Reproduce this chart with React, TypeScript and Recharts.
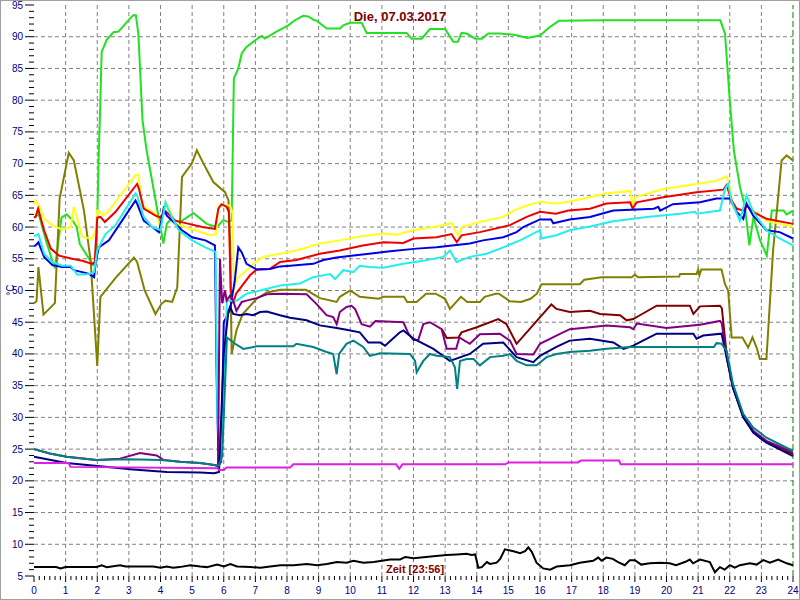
import { LineChart, Line, XAxis, YAxis, ReferenceLine } from "recharts";

type Pt = [number, number];

// Stundenwerte (Zeit in h, Temperatur in °C)
const gruen: Pt[] = [
  [0, 61.5], [0.15, 62], [0.4, 57.5], [0.66, 53.5], [0.87, 61.5], [1.03, 62], [1.2, 61.2], [1.35, 60],
  [1.45, 57.3], [1.87, 54], [1.97, 54.5], [2.05, 72], [2.1, 80], [2.14, 87.6], [2.3, 89.5], [2.51, 90.7],
  [2.67, 90.8], [3.04, 92.9], [3.14, 93.4], [3.22, 93.4], [3.3, 90.5], [3.35, 85.3], [3.43, 76.9], [3.56, 72.1],
  [4.09, 57.4], [4.2, 60.5], [4.3, 61.1], [4.62, 60.8], [5.04, 62.2], [5.46, 60.5], [5.78, 60], [5.99, 61.1],
  [6.15, 60.8], [6.25, 61.1], [6.32, 83.4], [6.46, 85], [6.57, 87.4], [6.72, 88.4], [7.04, 89.6], [7.2, 90.1],
  [7.3, 89.7], [7.67, 90.8], [8.04, 91.8], [8.25, 92.6], [8.51, 93.3], [8.67, 93.2], [8.83, 92.7], [8.94, 92.5],
  [9.26, 91.3], [9.68, 91.3], [9.78, 91.8], [9.99, 92.2], [10.36, 92.2], [10.52, 90.6], [11.78, 90.6],
  [11.94, 89.7], [12.26, 89.7], [12.52, 91.2], [13.0, 91.2], [13.26, 89.2], [13.4, 89.2], [13.52, 90.6],
  [13.68, 90.5], [13.95, 89.7], [14.16, 89.7], [14.37, 90.5], [14.73, 90.5], [15.2, 90.3], [15.6, 89.8],
  [16.0, 90.2], [16.3, 91.5], [16.6, 92.5], [18, 92.6], [21.7, 92.6], [21.85, 90.5], [22.0, 80], [22.13, 72.1],
  [22.32, 66.4], [22.48, 63.2], [22.62, 57.1], [22.75, 61.6], [22.95, 58], [23.17, 55.5], [23.33, 62.6],
  [23.7, 62.6], [23.8, 62], [24, 62.6],
];

const gelb: Pt[] = [
  [0, 63.5], [0.05, 64.2], [0.16, 63.4], [0.32, 61.3], [0.58, 60.3], [0.89, 59.6], [1.16, 60], [1.26, 63.2],
  [1.53, 58.4], [1.84, 58.2], [1.95, 59.5], [2.0, 62.6], [2.1, 62.4], [2.2, 61.8], [2.37, 62.6], [3.21, 68.2],
  [3.3, 68.2], [3.42, 63.4], [3.84, 62.1], [4.0, 60], [4.14, 63.9], [4.26, 63.2], [4.47, 60.5], [4.79, 60],
  [5.1, 59.5], [5.58, 58.7], [5.76, 58.9], [5.83, 63.4], [6.2, 63.4], [6.28, 62.1], [6.33, 50], [6.4, 51.8],
  [6.73, 53.2], [6.93, 54.2], [7.25, 55.3], [7.78, 55.8], [8.3, 56.3], [9.04, 57.4], [9.67, 57.9], [10.3, 58.5],
  [11.05, 59], [11.47, 58.8], [12.0, 59.5], [12.73, 60.1], [13.21, 60.6], [13.31, 59.5], [13.42, 58.7],
  [13.52, 60], [14.1, 60.8], [14.84, 61.6], [15.16, 62.6], [15.58, 63.4], [16.0, 64], [16.5, 63.7], [16.9, 64],
  [17.58, 64.7], [18.06, 65.3], [18.85, 65.7], [18.93, 63.4], [19.0, 64.7], [19.9, 66], [20.95, 66.8],
  [21.6, 67.3], [21.9, 68], [22.0, 66.3], [22.1, 63.2], [22.43, 62.6], [22.53, 64.7], [22.74, 62.6],
  [23.16, 61], [24, 60.1],
];

const rot: Pt[] = [
  [0, 61.5], [0.05, 61.6], [0.13, 62.9], [0.32, 59.5], [0.53, 56.6], [0.79, 55.5], [1.21, 55], [1.53, 54.7],
  [1.84, 54.2], [1.92, 54.5], [2.0, 61.5], [2.1, 61.6], [2.24, 60.8], [2.58, 62.4], [3.26, 66.8], [3.32, 66],
  [3.47, 62.9], [3.84, 61.8], [4.0, 61.5], [4.16, 62.5], [4.47, 61], [4.9, 60.5], [5.32, 60], [5.72, 59.7],
  [5.83, 62.9], [5.93, 63.6], [6.09, 63.2], [6.16, 62.4], [6.22, 50], [6.3, 48], [6.39, 49.5], [6.51, 50.3],
  [6.83, 52.4], [7.04, 53.3], [7.46, 53.4], [7.78, 54.5], [8.3, 54.8], [9.04, 55.8], [9.67, 56.3], [10.4, 57.1],
  [11.05, 57.6], [11.68, 57.5], [12.0, 58.2], [12.73, 58.4], [13.2, 58.9], [13.37, 57.6], [13.52, 58.7],
  [14.1, 59.2], [15.05, 60.3], [15.58, 61.6], [16.0, 62.4], [16.5, 62.1], [16.9, 62.6], [17.58, 62.9],
  [18.1, 63.7], [18.85, 63.9], [18.93, 62.9], [19.06, 63.9], [19.9, 64.7], [20.95, 65.5], [21.8, 65.9],
  [21.9, 66.6], [22.06, 64.2], [22.22, 62.9], [22.43, 62.6], [22.53, 63.4], [22.74, 62.4], [23.16, 61.3],
  [24, 60.5],
];

const blau: Pt[] = [
  [0, 57], [0.05, 57.1], [0.14, 57.6], [0.32, 55.3], [0.58, 54], [0.89, 53.7], [1.16, 53.7], [1.26, 53.2],
  [1.53, 52.9], [1.74, 52.6], [1.9, 52.1], [1.95, 54.5], [2.05, 56.8], [2.37, 57.9], [3.21, 64.2], [3.26, 63.7],
  [3.47, 61], [3.74, 60], [3.95, 59.2], [4.1, 62.9], [4.2, 61.8], [4.37, 61], [4.68, 59.5], [5.0, 58.4],
  [5.42, 57.9], [5.72, 57.1], [5.78, 35], [5.84, 22.5], [5.92, 23], [6.0, 45], [6.2, 47], [6.35, 51.6],
  [6.46, 56.8], [6.57, 56], [6.72, 54.2], [7.04, 53.3], [7.46, 53.4], [7.78, 53.8], [8.1, 53.9], [8.83, 54.2],
  [9.15, 54.8], [9.57, 55.2], [10.1, 55.5], [10.6, 55.8], [11.26, 56.2], [12.1, 56.6], [12.73, 56.8],
  [13.78, 57.4], [14.2, 57.9], [14.84, 58.4], [15.26, 59.2], [15.47, 60], [16.0, 61.2], [16.35, 61.2],
  [16.42, 60.6], [16.94, 61.2], [17.58, 61.6], [18.32, 62.6], [19.6, 62.9], [19.74, 63.2], [19.8, 62.6],
  [20.2, 63.6], [21.06, 63.9], [21.58, 64.5], [22.0, 64.5], [22.22, 62.4], [22.43, 61.3], [22.53, 63.7],
  [22.74, 61.8], [23.16, 59.5], [23.58, 59.2], [24, 58.2],
];

const cyan: Pt[] = [
  [0, 58.5], [0.05, 58.7], [0.14, 58.9], [0.32, 55.8], [0.58, 54.5], [0.89, 53.9], [1.16, 53.9], [1.37, 52.5],
  [1.74, 52.6], [1.9, 52.9], [2.0, 56.3], [2.26, 58.9], [2.58, 60.3], [3.21, 65.3], [3.26, 65], [3.47, 61.6],
  [3.74, 60], [4.0, 59.5], [4.16, 63.9], [4.26, 62.6], [4.58, 59.5], [5.0, 57.9], [5.42, 56.8], [5.74, 56.1],
  [5.8, 30], [5.9, 23], [5.98, 30], [6.1, 48.4], [6.41, 48.4], [6.72, 49.5], [7.15, 50], [7.78, 50.8],
  [8.41, 51.1], [8.83, 52.1], [9.36, 52.6], [9.52, 51.8], [9.78, 53.2], [10.1, 52.9], [10.3, 53.9],
  [10.6, 53.7], [11.05, 53.6], [11.68, 54.2], [12.31, 54.7], [12.94, 55.3], [13.15, 56.3], [13.36, 54.5],
  [13.78, 55.3], [14.31, 55.8], [14.84, 56.8], [15.37, 57.9], [16.0, 59.5], [16.05, 58.2], [16.52, 58.7],
  [16.94, 59.5], [17.58, 60.1], [18.32, 60.9], [19.38, 61.6], [20.43, 62.1], [20.9, 62.4], [20.95, 62.1],
  [21.69, 62.6], [21.85, 66], [21.95, 66.8], [22.06, 64], [22.32, 61], [22.53, 65], [22.74, 62.4],
  [23.16, 59.5], [23.58, 58.2], [24, 57.1],
];

const oliv: Pt[] = [
  [0, 48], [0.08, 48.3], [0.14, 53.7], [0.3, 46.2], [0.66, 48], [0.81, 64.5], [1.1, 71.7], [1.26, 70.5],
  [1.58, 62.6], [1.79, 54.7], [1.95, 42], [2.0, 38.1], [2.1, 49], [2.58, 52], [3.16, 55.2], [3.26, 54.5],
  [3.5, 50], [3.84, 46.3], [4.03, 47.9], [4.16, 48.4], [4.37, 48.2], [4.53, 50.5], [4.68, 67.9], [4.99, 70],
  [5.15, 72.1], [5.36, 70], [5.67, 67.1], [6.04, 65.5], [6.15, 64.2], [6.2, 57.9], [6.25, 40], [6.4, 43.7],
  [6.6, 46.3], [7.04, 48.7], [7.36, 49.7], [7.8, 50.1], [8.6, 50.1], [9.04, 48.8], [9.57, 48.2], [9.67, 49],
  [10.0, 50], [10.3, 49], [10.9, 48.7], [11.05, 49], [11.7, 49], [11.8, 48.2], [12.1, 48.2], [12.4, 49.5],
  [12.7, 49.5], [13.0, 48.7], [13.15, 47.1], [13.5, 49], [13.7, 48.2], [14.1, 48.2], [14.25, 49], [14.6, 49.5],
  [14.7, 49.5], [15.05, 48.3], [15.4, 48.2], [15.7, 48.7], [15.9, 49.5], [16.05, 51], [17.26, 51],
  [17.4, 51.7], [17.95, 52.1], [18.9, 52.1], [19.0, 52.5], [19.1, 52.1], [20.4, 52.2], [20.43, 52.6],
  [20.95, 52.6], [21.0, 53.3], [21.04, 52.4], [21.1, 53.3], [21.74, 53.3], [21.85, 51], [21.95, 50],
  [22.06, 42.6], [22.4, 42.6], [22.58, 41], [22.72, 42.6], [22.85, 41], [22.95, 39.2], [23.16, 39.2],
  [23.37, 56.3], [23.64, 70.5], [23.8, 71.3], [24, 70.5],
];

const braun: Pt[] = [
  [12.9, 43.9], [13.05, 42.5], [13.42, 42.6], [13.52, 43.4], [14.0, 44.2], [14.68, 45.5], [14.94, 44.7],
  [15.26, 41.6], [16.36, 47.8], [16.52, 47.1], [16.94, 46.6], [17.58, 46.8], [17.9, 46.3], [18.53, 46.1],
  [18.74, 45.3], [18.95, 45.5], [19.16, 46.1], [19.69, 47.6], [20.74, 47.6], [20.85, 46.3], [21.06, 47.5],
  [21.69, 47.6], [21.75, 47.2], [21.9, 40], [22.1, 34.8], [22.43, 30], [22.74, 27.8], [23.16, 26.2], [24, 24.2],
];

const lila: Pt[] = [
  [0, 25], [0.5, 24.3], [1.03, 23.8], [1.98, 23.3], [2.72, 23.5], [3.35, 24.4], [3.88, 24.0], [4.09, 23.3],
  [4.62, 23.0], [5.25, 22.8], [5.7, 22.5], [5.82, 22.3], [5.88, 55], [5.95, 48], [6.04, 50], [6.09, 48.4],
  [6.2, 49.2], [6.3, 48.4], [6.4, 46.8], [6.57, 48.2], [6.72, 48.4], [7.04, 48.8], [7.36, 49.4], [7.78, 49.5],
  [8.62, 49.4], [8.93, 47.9], [9.25, 46.1], [9.46, 45.8], [9.57, 44.7], [9.67, 46.6], [9.88, 47.4],
  [10.04, 47.6], [10.15, 47.1], [10.36, 44.7], [10.62, 44.3], [10.8, 45.2], [11.68, 45], [11.84, 43.2],
  [12.0, 42.2], [12.15, 42.2], [12.31, 44.7], [12.52, 45], [12.89, 43.9], [13.05, 40.8], [13.35, 40.8],
  [13.45, 42.6], [13.78, 41.6], [14.1, 43.1], [14.73, 43.2], [15.05, 42.1], [15.26, 40], [15.79, 39.9],
  [16.0, 41.6], [16.52, 42.9], [16.94, 43.9], [17.58, 44.2], [18.1, 44.5], [18.85, 44.2], [18.95, 43.9],
  [19.06, 44.8], [20.0, 44.1], [21.06, 44.6], [21.69, 45.2], [21.75, 44.8], [21.9, 39.5], [22.1, 34.7],
  [22.43, 30], [22.74, 27.9], [23.16, 26.3], [24, 24.5],
];

const marine: Pt[] = [
  [0, 23.8], [1.03, 22.8], [2.09, 22.3], [3.14, 21.8], [4.2, 21.4], [5.25, 21.3], [5.7, 21.2], [5.85, 21.4],
  [5.92, 30], [6.0, 40], [6.15, 46.8], [6.2, 47.4], [6.3, 46.3], [6.51, 46.1], [6.72, 46.3], [6.93, 46.1],
  [7.15, 46.6], [7.36, 46.7], [7.78, 46.1], [8.1, 45.7], [8.62, 45.3], [9.04, 44.5], [9.57, 44.1], [9.88, 43.8],
  [10.3, 43.4], [10.57, 41.8], [10.94, 41.8], [11.1, 41.3], [11.57, 43.4], [11.68, 43.7], [12.0, 42.4],
  [12.63, 40.8], [13.15, 38.9], [13.78, 40], [14.2, 41.6], [14.84, 41.8], [15.26, 39.5], [15.79, 38.7],
  [16.0, 39.7], [16.52, 41.1], [16.94, 42.1], [17.58, 42.4], [18.32, 41.8], [18.64, 40.8], [18.95, 41.3],
  [19.38, 42.4], [19.69, 43.2], [20.85, 43.2], [20.95, 42.4], [21.16, 42.9], [21.74, 43.2], [21.9, 39.5],
  [22.1, 34.7], [22.43, 30], [22.74, 27.6], [23.16, 26], [24, 23.9],
];

const petrol: Pt[] = [
  [0, 25], [0.5, 24.3], [1.03, 23.8], [1.98, 23.3], [3.0, 23.4], [4.0, 23.3], [4.62, 23.0], [5.25, 22.8],
  [5.7, 22.5], [5.85, 22.4], [5.95, 24], [6.1, 42.6], [6.36, 41.6], [6.62, 40.8], [7.04, 41.2], [8.2, 41.2],
  [8.3, 41.6], [8.83, 41.1], [9.25, 40.3], [9.46, 40], [9.57, 36.8], [9.65, 40], [9.88, 41.6], [10.1, 42.1],
  [10.41, 41.1], [10.62, 39.7], [10.94, 40.1], [11.89, 40], [12.05, 38.9], [12.1, 37.1], [12.31, 38.9],
  [12.52, 40], [12.73, 39.7], [13.15, 39.5], [13.31, 37.9], [13.38, 34.5], [13.47, 38.9], [13.68, 39.2],
  [13.9, 39.2], [14.1, 38.2], [14.42, 39.5], [14.84, 39.7], [15.05, 40], [15.26, 38.9], [15.58, 38.2],
  [15.89, 38.2], [16.21, 39.5], [16.52, 40], [16.94, 40.3], [17.58, 40.5], [18.1, 40.8], [18.85, 41.1],
  [21.06, 41.1], [21.5, 41.1], [21.58, 41.7], [21.74, 41.6], [21.9, 40.5], [22.1, 35.3], [22.43, 30.5],
  [22.74, 28.4], [23.16, 26.8], [24, 24.7],
];

const magenta: Pt[] = [
  [0, 22.8], [1.1, 22.8], [1.15, 22.2], [5.8, 22.0], [5.85, 21.7], [6.0, 21.7], [6.09, 22.1], [8.1, 22.1],
  [8.2, 22.6], [11.45, 22.6], [11.55, 21.9], [11.65, 22.6], [14.9, 22.6], [15.0, 22.9], [17.2, 22.9],
  [17.3, 23.2], [18.5, 23.2], [18.55, 22.6], [24, 22.6],
];

const aussen: Pt[] = [
  [0, 6.4], [0.7, 6.4], [0.84, 6.2], [1.0, 6.4], [1.98, 6.4], [2.14, 6.7], [2.3, 6.4], [2.72, 6.7], [2.9, 6.5],
  [3.77, 6.5], [4.0, 6.3], [4.2, 6.5], [4.4, 6.3], [4.6, 6.4], [4.94, 6.7], [5.26, 6.5], [5.47, 6.4],
  [5.79, 6.8], [6.0, 6.5], [6.21, 6.9], [6.42, 6.5], [6.84, 6.4], [7.16, 6.3], [7.47, 6.5], [7.79, 6.7],
  [8.21, 6.7], [8.63, 6.9], [8.95, 6.7], [9.26, 6.9], [9.58, 7.2], [9.89, 7.1], [10.1, 7.4], [10.42, 7.1],
  [10.74, 7.2], [11.0, 7.4], [11.26, 7.6], [11.58, 7.6], [11.74, 8.0], [12.0, 7.8], [12.63, 8.1], [13.05, 8.3],
  [13.37, 8.4], [13.68, 8.5], [13.84, 8.3], [13.95, 8.4], [14.05, 6.3], [14.16, 6.4], [14.32, 7.2],
  [14.42, 6.9], [14.63, 7.1], [14.74, 7.7], [14.89, 9.2], [15.16, 8.9], [15.37, 8.6], [15.53, 8.9],
  [15.63, 9.5], [15.74, 8.8], [15.89, 7.1], [16.1, 6.2], [16.32, 6.0], [16.53, 6.5], [16.95, 6.7],
  [17.26, 7.1], [17.68, 7.4], [17.84, 7.9], [17.95, 7.4], [18.1, 7.9], [18.3, 7.7], [18.47, 7.2],
  [18.68, 6.7], [18.84, 7.5], [19.0, 7.5], [19.2, 6.8], [19.47, 7.0], [19.79, 7.1], [20.1, 7.0], [20.3, 6.7],
  [20.58, 7.2], [20.74, 7.6], [20.84, 7.0], [21.06, 7.6], [21.37, 7.2], [21.53, 5.6], [21.69, 6.4],
  [21.84, 6.0], [22.0, 6.7], [22.16, 6.3], [22.32, 6.7], [22.64, 7.0], [22.85, 6.8], [23.06, 7.5],
  [23.27, 7.1], [23.53, 7.6], [23.8, 7.0], [24.0, 6.7],
];

const xMajor = [0, 1, 2, 3, 4, 5, 6, 7, 8, 9, 10, 11, 12, 13, 14, 15, 16, 17, 18, 19, 20, 21, 22, 23, 24];
const yMajor = [5, 10, 15, 20, 25, 30, 35, 40, 45, 50, 55, 60, 65, 70, 75, 80, 85, 90, 95];
const xGrid = xMajor.slice(1, -1);
const yGrid = yMajor.slice(1, -1);

// Nebenteilung: 10 min auf x, 1 °C auf y
const xTicks = Array.from({ length: 24 * 6 + 1 }, (_, i) => i / 6);
const yTicks = Array.from({ length: 91 }, (_, i) => 5 + i);

const series: { name: string; pts: Pt[]; color: string }[] = [
  { name: "gruen", pts: gruen, color: "#22e022" },
  { name: "oliv", pts: oliv, color: "#808000" },
  { name: "gelb", pts: gelb, color: "#ffff1a" },
  { name: "rot", pts: rot, color: "#ee0000" },
  { name: "blau", pts: blau, color: "#0000e6" },
  { name: "cyan", pts: cyan, color: "#22eeee" },
  { name: "braun", pts: braun, color: "#800000" },
  { name: "lila", pts: lila, color: "#800080" },
  { name: "marine", pts: marine, color: "#000080" },
  { name: "petrol", pts: petrol, color: "#008080" },
  { name: "magenta", pts: magenta, color: "#e020e0" },
  { name: "aussen", pts: aussen, color: "#000000" },
];

const font = "'Liberation Sans', Arial, sans-serif";

const YTick = (props: any) => {
  const { x, y, payload } = props;
  const v = payload.value;
  const major = v % 5 === 0;
  return (
    <g>
      <line x1={x - (major ? 9 : 5)} x2={x} y1={y} y2={y} stroke="#000" />
      {major && (
        <text x={x - 11} y={y} dy={3.5} textAnchor="end" fill="#000080" fontSize={10} fontFamily={font}>
          {v}
        </text>
      )}
    </g>
  );
};

const XTick = (props: any) => {
  const { x, y, payload } = props;
  const v = payload.value;
  const major = Math.abs(v - Math.round(v)) < 1e-6;
  return (
    <g>
      <line x1={x} x2={x} y1={y} y2={y + (major ? 6 : 4)} stroke="#000" />
      {major && (
        <text x={x} y={y + 18} textAnchor="middle" fill="#000080" fontSize={10} fontFamily={font}>
          {Math.round(v)}
        </text>
      )}
    </g>
  );
};

export default function App() {
  return (
    <div style={{ position: "absolute", left: 0, top: 0, width: 800, height: 600, background: "#fff" }}>
      <LineChart width={800} height={600} margin={{ top: 5, right: 7, left: 0, bottom: 0 }}>
        <XAxis
          type="number"
          dataKey="t"
          domain={[0, 24]}
          ticks={xTicks}
          interval={0}
          tickSize={0}
          tickMargin={0}
          axisLine={false}
          tickLine={false}
          height={24}
          tick={<XTick />}
        />
        <YAxis
          type="number"
          domain={[5, 95]}
          ticks={yTicks}
          interval={0}
          tickSize={0}
          tickMargin={0}
          axisLine={false}
          tickLine={false}
          width={34}
          tick={<YTick />}
        />
        {yGrid.map((v) => (
          <ReferenceLine key={"y" + v} y={v} stroke="#808080" strokeDasharray="4 3" />
        ))}
        {xGrid.map((v) => (
          <ReferenceLine key={"x" + v} x={v} stroke="#808080" strokeDasharray="4 3" />
        ))}
        <ReferenceLine x={24} stroke="#008000" strokeDasharray="6 3" />
        {series.map((s) => (
          <Line
            key={s.name}
            data={s.pts.map(([t, v]) => ({ t, v }))}
            dataKey="v"
            type="linear"
            stroke={s.color}
            strokeWidth={2}
            dot={false}
            activeDot={false}
            isAnimationActive={false}
          />
        ))}
      </LineChart>
      <div
        style={{
          position: "absolute", left: 0, top: 9, width: 800, textAlign: "center",
          fontFamily: font, fontWeight: "bold", fontSize: 13, color: "#800000", lineHeight: "16px",
        }}
      >
        Die, 07.03.2017
      </div>
      <div
        style={{
          position: "absolute", left: 386, top: 562, fontFamily: font, fontWeight: "bold",
          fontSize: 11, color: "#800000", lineHeight: "14px", whiteSpace: "nowrap",
        }}
      >
        Zeit [23:56]
      </div>
      <div
        style={{
          position: "absolute", left: 3, top: 283, width: 16, height: 14, fontFamily: font,
          fontSize: 10, color: "#000080", transform: "rotate(-90deg)", lineHeight: "14px", textAlign: "center",
        }}
      >
        °C
      </div>
      <div
        style={{
          position: "absolute", left: 0, top: 0, width: 800, height: 600, boxSizing: "border-box",
          border: "1px solid #a0a0a0", pointerEvents: "none",
        }}
      />
    </div>
  );
}
